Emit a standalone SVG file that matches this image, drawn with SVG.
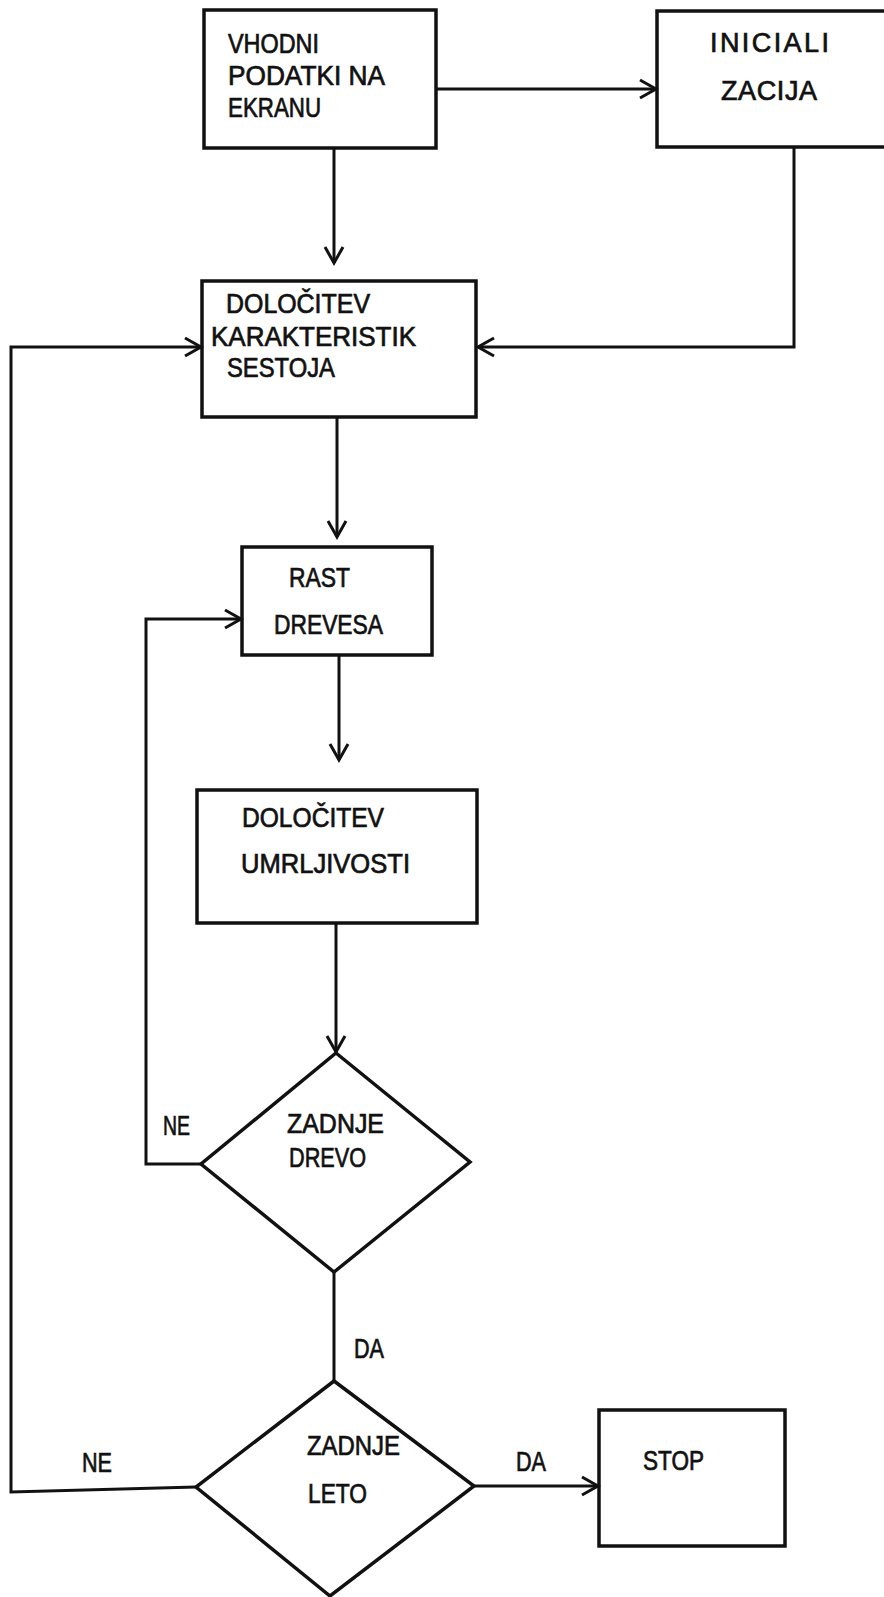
<svg xmlns="http://www.w3.org/2000/svg" width="884" height="1597" viewBox="0 0 884 1597">
<style>
.box{fill:none;stroke:#111;stroke-width:3.5}
.ln{fill:none;stroke:#111;stroke-width:3}
.arr{marker-end:url(#ah)}
text{font-family:"Liberation Sans",Arial,sans-serif;font-size:27px;fill:#111;stroke:#111;stroke-width:0.7}
</style>
<defs>
<marker id="ah" markerUnits="userSpaceOnUse" viewBox="-18 -11 20 22" refX="0" refY="0" markerWidth="20" markerHeight="22" orient="auto" overflow="visible">
<path d="M-16,-9 L0,0 L-16,9" fill="none" stroke="#111" stroke-width="3"/>
</marker>
</defs>
<rect width="884" height="1597" fill="#fff"/>
<g id="connectors">
<path class="ln arr" d="M436,89 L656,89"/>
<path class="ln arr" d="M334,148 L334,263"/>
<path class="ln arr" d="M794,147 L794,347 L478,347"/>
<path class="ln arr" d="M196,1487 L11,1492 L11,347 L201,347"/>
<path class="ln arr" d="M337,417 L337,537"/>
<path class="ln arr" d="M339,655 L339,760"/>
<path class="ln arr" d="M201,1164 L146,1164 L146,619 L241,619"/>
<path class="ln arr" d="M336,923 L336,1052"/>
<path class="ln" d="M334,1271 L334,1381"/>
<path class="ln arr" d="M474,1486 L598,1486"/>
<text x="163" y="1135" textLength="27" lengthAdjust="spacingAndGlyphs">NE</text>
<text x="354" y="1358" textLength="30" lengthAdjust="spacingAndGlyphs">DA</text>
<text x="82" y="1472" textLength="30" lengthAdjust="spacingAndGlyphs">NE</text>
<text x="516" y="1471" textLength="30" lengthAdjust="spacingAndGlyphs">DA</text>
</g>
<g id="vhodni">
<rect class="box" x="204" y="10" width="232" height="138"/>
<text x="228" y="53" textLength="91" lengthAdjust="spacingAndGlyphs">VHODNI</text>
<text x="228" y="85" textLength="157" lengthAdjust="spacingAndGlyphs">PODATKI NA</text>
<text x="228" y="117" textLength="93" lengthAdjust="spacingAndGlyphs">EKRANU</text>
</g>
<g id="inicializacija">
<rect class="box" x="657" y="11" width="240" height="136"/>
<text x="710" y="52" font-size="25" textLength="119" lengthAdjust="spacing">INICIALI</text>
<text x="721" y="100" font-size="25" textLength="96" lengthAdjust="spacing">ZACIJA</text>
</g>
<g id="karakteristike">
<rect class="box" x="202" y="281" width="274" height="136"/>
<text x="226" y="313" textLength="144" lengthAdjust="spacingAndGlyphs">DOLOČITEV</text>
<text x="211" y="346" textLength="205" lengthAdjust="spacingAndGlyphs">KARAKTERISTIK</text>
<text x="227" y="377" textLength="108" lengthAdjust="spacingAndGlyphs">SESTOJA</text>
</g>
<g id="rast">
<rect class="box" x="242" y="547" width="190" height="108"/>
<text x="289" y="587" textLength="61" lengthAdjust="spacingAndGlyphs">RAST</text>
<text x="274" y="634" textLength="109" lengthAdjust="spacingAndGlyphs">DREVESA</text>
</g>
<g id="umrljivost">
<rect class="box" x="197" y="790" width="280" height="133"/>
<text x="242" y="827" textLength="142" lengthAdjust="spacingAndGlyphs">DOLOČITEV</text>
<text x="241" y="873" textLength="169" lengthAdjust="spacingAndGlyphs">UMRLJIVOSTI</text>
</g>
<g id="zadnje-drevo">
<polygon class="box" points="336,1053 470,1162 334,1272 201,1164"/>
<text x="287" y="1133" textLength="97" lengthAdjust="spacingAndGlyphs">ZADNJE</text>
<text x="289" y="1167" textLength="77" lengthAdjust="spacingAndGlyphs">DREVO</text>
</g>
<g id="zadnje-leto">
<polygon class="box" points="334,1381 474,1486 330,1596 196,1487"/>
<text x="307" y="1455" textLength="93" lengthAdjust="spacingAndGlyphs">ZADNJE</text>
<text x="308" y="1503" textLength="59" lengthAdjust="spacingAndGlyphs">LETO</text>
</g>
<g id="stop">
<rect class="box" x="599" y="1410" width="186" height="136"/>
<text x="643" y="1470" textLength="61" lengthAdjust="spacingAndGlyphs">STOP</text>
</g>
</svg>
